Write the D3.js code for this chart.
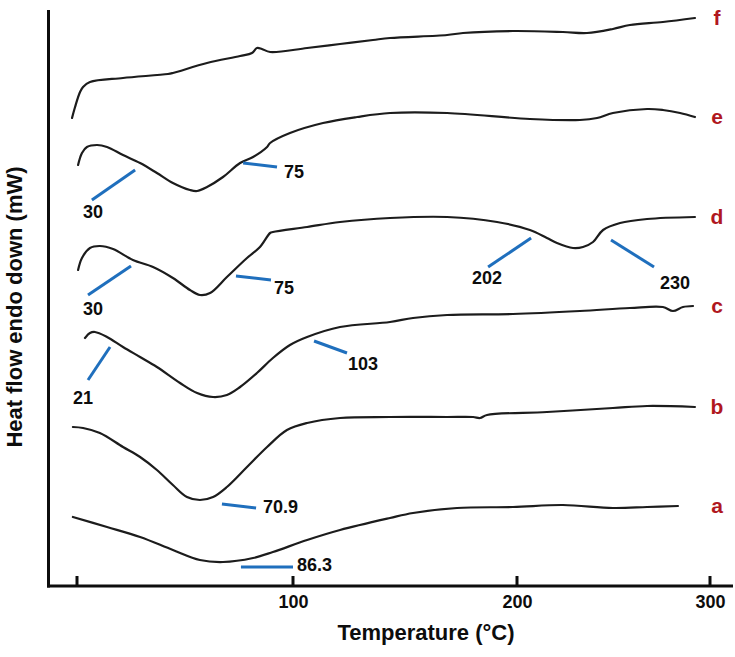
<!DOCTYPE html>
<html>
<head>
<meta charset="utf-8">
<script src="https://cdn.jsdelivr.net/npm/d3@7/dist/d3.min.js"></script>
<style>
  html, body { margin: 0; padding: 0; background: #fff; }
  svg { display: block; }
  text { font-family: "Liberation Sans", Arial, sans-serif; font-weight: bold; }
</style>
</head>
<body>
<svg id="chart" width="735" height="657"></svg>
<script>
// ---------- DATA (temperature °C, heat flow in arbitrary offset units) ----------
const xTicks = [0, 100, 200, 300];
const xTickLabels = ["", "100", "200", "300"];
const xTitle = "Temperature (°C)";
const yTitle = "Heat flow endo down (mW)";

const curveNames = ["a", "b", "c", "d", "e", "f"];

const curveA = [[-1.9,69],[13.9,59],[29.2,49],[44.4,36],[56.9,26],[67.6,24],[81.5,28],[90.7,34],[106.3,46],[121.0,56],[143.3,68],[153.6,73],[173.2,78],[198.2,79],[223.8,81],[249.7,78],[267.4,79],[283.4,80]];
const curveB = [[-1.9,159],[2.8,158],[10.6,153],[21.3,139],[29.2,129],[37.0,116],[44.4,101],[50.9,89],[56.9,86],[63.0,89],[69.4,99],[78.7,119],[88.0,139],[97.2,156],[106.3,163],[121.0,168],[143.3,169],[168.8,169],[180.4,169],[183.5,168],[186.6,171],[215.5,174],[249.7,178],[267.4,180],[292.2,179]];
const curveC = [[3.7,248],[6.0,253],[8.3,254],[13.9,249],[21.3,239],[29.2,229],[37.0,219],[47.7,203],[55.6,193],[63.0,189],[69.4,191],[75.5,199],[83.3,213],[90.7,228],[98.6,241],[106.3,249],[121.0,259],[143.3,264],[153.6,268],[168.8,271],[198.2,272],[232.6,275],[258.5,278],[275.6,279],[280.8,275],[286.0,279],[291.2,280]];
const curveD = [[0.5,316],[2.3,328],[6.0,338],[10.6,340],[16.7,337],[25.9,326],[35.2,319],[44.4,308],[52.3,296],[56.9,291],[61.6,293],[69.4,309],[78.7,328],[84.7,339],[89.4,353],[90.7,354],[106.3,359],[121.0,364],[143.3,368],[168.8,369],[191.1,364],[206.7,356],[215.5,348],[220.7,343],[229.0,338],[234.2,339],[239.4,344],[244.6,356],[253.4,363],[267.4,367],[292.2,369]];
const curveE = [[0.5,421],[2.3,433],[4.6,439],[9.3,441],[13.9,439],[21.3,431],[29.2,423],[37.0,413],[44.4,403],[52.3,396],[55.6,395],[60.2,399],[67.6,409],[75.5,423],[81.5,429],[88.0,439],[89.4,443],[98.6,453],[113.4,463],[128.6,469],[143.3,473],[168.8,473],[206.7,467],[232.6,466],[241.5,468],[249.7,473],[267.4,477],[275.6,476],[284.5,473],[292.2,469]];
const curveF = [[-2.3,468],[-0.9,479],[1.4,494],[2.8,499],[6.0,504],[21.3,508],[42.1,512],[44.4,513],[60.2,523],[75.5,530],[81.0,533],[83.3,538],[85.6,537],[89.4,534],[106.3,538],[121.0,542],[135.7,546],[143.3,548],[168.8,551],[175.9,553],[198.2,555],[223.8,554],[236.3,553],[249.7,557],[258.5,561],[275.6,564],[292.2,568]];

const curves = [curveA, curveB, curveC, curveD, curveE, curveF];

// annotation leader lines: [text, [T1,v1], [T2,v2]] (label goes near the second point)
const annotations = [
  ["30",   [26.9,416], [6.9,386]],
  ["75",   [76.9,423], [92.6,419]],
  ["30",   [25.0,320], [5.1,291]],
  ["75",   [73.6,310], [89.8,306]],
  ["202",  [207.3,348], [187.1,319]],
  ["230",  [248.7,346], [271.0,319]],
  ["21",   [15.3,239], [5.1,206]],
  ["103",  [109.4,245], [124.1,233]],
  ["70.9", [67.1,82],  [82.9,78]],
  ["86.3", [75.9,19],  [100,19]]
];

// ---------- LAYOUT / STYLE ----------
const annoOffsets = [[1,12,"middle"],[7,5,"start"],[5,14,"middle"],[3,8,"start"],[-1,11,"middle"],[21,16,"middle"],[-5,18,"middle"],[16,11,"middle"],[7,-1,"start"],[4,-2,"start"]];

const svg = d3.select("#chart");
const x = d3.scaleLinear().domain(xTicks).range([77, 293, 517, 710]);
const y = d3.scaleLinear().domain([0, 576]).range([586, 10]);

const blue = "#1f6fbd";
const red = "#b0171e";
const ink = "#0d0d0d";

// axes
const axisBottom = d3.axisBottom(x).tickValues(xTicks).tickSize(0).tickFormat((d, i) => xTickLabels[i]);
const gx = svg.append("g").attr("transform", "translate(0,586)").call(axisBottom);
gx.select(".domain").remove();
gx.selectAll(".tick text").attr("dy", 0).attr("y", 22).attr("font-size", 18).attr("fill", ink)
  .attr("font-family", "'Liberation Sans', Arial, sans-serif").attr("font-weight", "bold");

svg.append("line").attr("x1", 47).attr("x2", 733).attr("y1", 586).attr("y2", 586)
  .attr("stroke", ink).attr("stroke-width", 3);
svg.append("line").attr("x1", 48.5).attr("x2", 48.5).attr("y1", 10).attr("y2", 587.5)
  .attr("stroke", ink).attr("stroke-width", 3);
svg.selectAll(".tk").data(xTicks).enter().append("line")
  .attr("x1", d => x(d)).attr("x2", d => x(d)).attr("y1", 576).attr("y2", 586)
  .attr("stroke", ink).attr("stroke-width", 3);

svg.append("text").attr("x", 426).attr("y", 640).attr("text-anchor", "middle")
  .attr("font-size", 22).attr("fill", ink).text(xTitle);
svg.append("text").attr("transform", "translate(22,307) rotate(-90)").attr("text-anchor", "middle")
  .attr("font-size", 22).attr("fill", ink).text(yTitle);

// curves
const line = d3.line().x(d => x(d[0])).y(d => y(d[1])).curve(d3.curveCatmullRom.alpha(0.5));
svg.selectAll(".curve").data(curves).enter().append("path")
  .attr("d", line).attr("fill", "none").attr("stroke", "#1c1c1c")
  .attr("stroke-width", 2.2).attr("stroke-linejoin", "round").attr("stroke-linecap", "round");

// curve labels
svg.selectAll(".clab").data(curves).enter().append("text")
  .attr("x", x(300) + 7).attr("y", d => y(d[d.length - 1][1]))
  .attr("dy", "0.35em").attr("text-anchor", "middle").attr("font-size", 21).attr("fill", red)
  .text((d, i) => curveNames[i]);

// annotations
const ag = svg.selectAll(".anno").data(annotations).enter().append("g");
ag.append("line")
  .attr("x1", d => x(d[1][0])).attr("y1", d => y(d[1][1]))
  .attr("x2", d => x(d[2][0])).attr("y2", d => y(d[2][1]))
  .attr("stroke", blue).attr("stroke-width", 3);
ag.append("text")
  .attr("x", (d, i) => x(d[2][0]) + annoOffsets[i][0])
  .attr("y", (d, i) => y(d[2][1]) + annoOffsets[i][1])
  .attr("dy", "0.35em").attr("text-anchor", (d, i) => annoOffsets[i][2])
  .attr("font-size", 18).attr("fill", ink).text(d => d[0]);
</script>
</body>
</html>
